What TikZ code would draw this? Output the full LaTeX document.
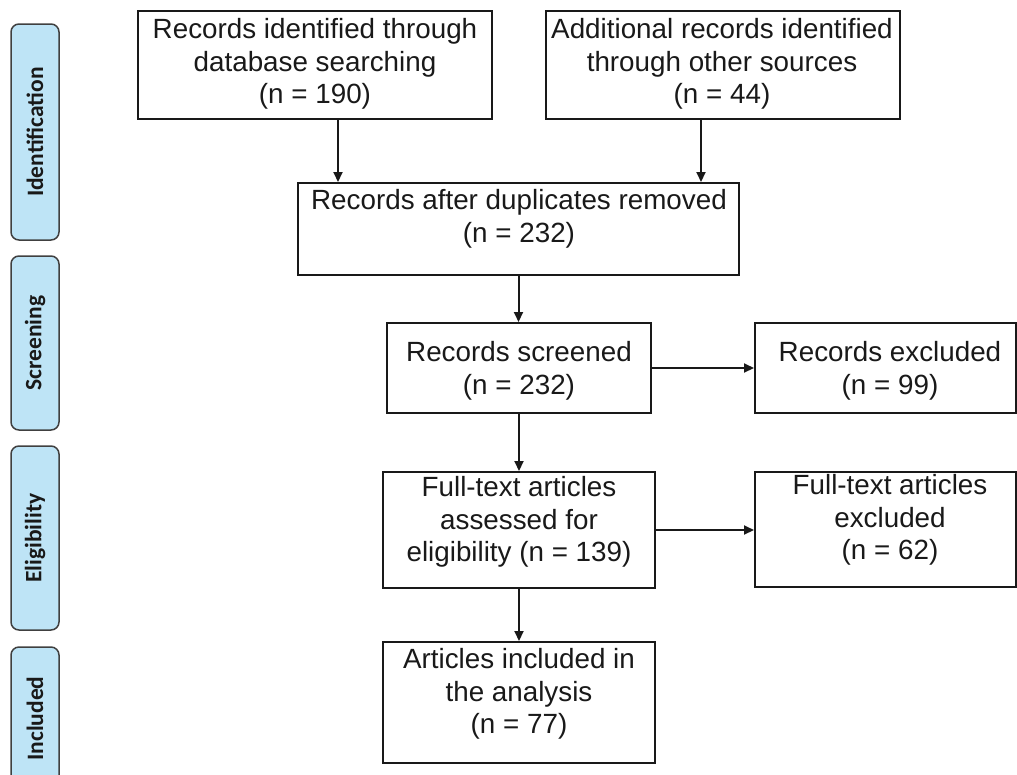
\documentclass[tikz,border=0pt]{standalone}
\usepackage{fontspec}
\setmainfont{Liberation Sans}
\newfontfamily\sidefont{Carlito}
\usetikzlibrary{arrows.meta}
\definecolor{sidefill}{RGB}{190,228,246}
\definecolor{ink}{RGB}{25,25,25}
\begin{document}
\begin{tikzpicture}[x=1pt,y=-1pt,
  box/.style={draw=ink, line width=2pt, inner sep=0pt},
  txt/.style={align=center, text=ink, font=\fontsize{27.8}{32.5}\selectfont, inner sep=0pt},
  side/.style={draw=black!75, line width=1.5pt, fill=sidefill, rounded corners=8pt, rotate=90,
    minimum height=48pt, inner sep=0pt, text=ink, font=\sidefont\bfseries\fontsize{23.5}{25}\selectfont},
  arr/.style={draw=ink, line width=2pt, -{Triangle[length=10pt,width=9pt]}}]
\useasboundingbox (0,0) rectangle (1017,774);

% phase bars
\node[side, minimum width=216pt] (pid) at (35,132) {Identification};
\node[side, minimum width=174pt] (psc) at (35,343) {Screening};
\node[side, minimum width=184pt] (pel) at (35,538) {Eligibility};
\node[side, minimum width=143pt] (pin) at (35,718.5) {Included};

% boxes
\node[box, minimum width=354pt, minimum height=108pt] (b1) at (315,65) {};
\node[txt] (t1) at (315,64) {Records identified through\\database searching\\(n = 190)};

\node[box, minimum width=354pt, minimum height=108pt] (b2) at (723,65) {};
\node[txt] (t2) at (722,64) {Additional records identified\\through other sources\\(n = 44)};

\node[box, minimum width=441pt, minimum height=92pt] (b3) at (518.5,229) {};
\node[txt] (t3) at (519,219) {Records after duplicates removed\\(n = 232)};

\node[box, minimum width=264pt, minimum height=90pt] (b4) at (519,368) {};
\node[txt] (t4) at (519,371) {Records screened\\(n = 232)};

\node[box, minimum width=261pt, minimum height=90pt] (b5) at (885.5,368) {};
\node[txt] (t5) at (890,371) {Records excluded\\(n = 99)};

\node[box, minimum width=272pt, minimum height=116pt] (b6) at (519,530) {};
\node[txt] (t6) at (519,522) {Full-text articles\\assessed for\\eligibility (n = 139)};

\node[box, minimum width=261pt, minimum height=115pt] (b7) at (885.5,529.5) {};
\node[txt] (t7) at (890,520) {Full-text articles\\excluded\\(n = 62)};

\node[box, minimum width=272pt, minimum height=121pt] (b8) at (519,702.5) {};
\node[txt] (t8) at (519,694) {Articles included in\\the analysis\\(n = 77)};

% connectors
\draw[arr] ([xshift=23pt]b1.south) -- ([xshift=23pt]b1.south |- b3.north);
\draw[arr] ([xshift=-22pt]b2.south) -- ([xshift=-22pt]b2.south |- b3.north);
\draw[arr] (b3.south) -- (b3.south |- b4.north);
\draw[arr] (b4.east) -- (b5.west);
\draw[arr] (b4.south) -- (b6.north);
\draw[arr] (b6.east) -- (b6.east -| b7.west);
\draw[arr] (b6.south) -- (b8.north);
\end{tikzpicture}
\end{document}
